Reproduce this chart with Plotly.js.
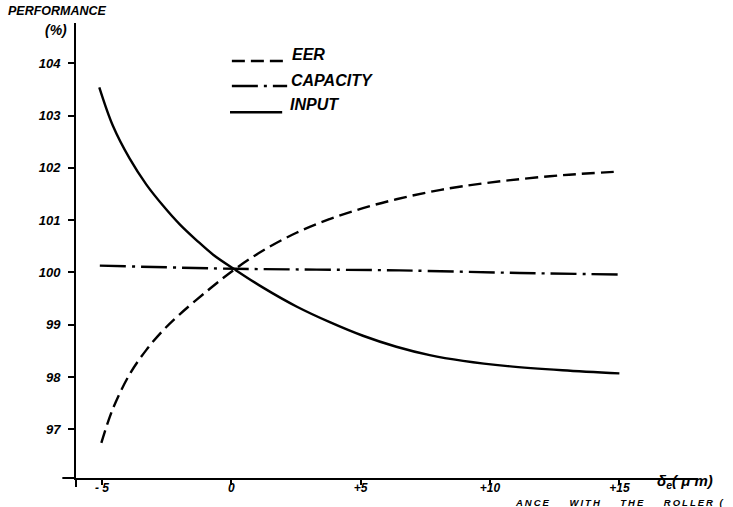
<!DOCTYPE html>
<html>
<head>
<meta charset="utf-8">
<script src="https://cdn.plot.ly/plotly-3.0.1.min.js"></script>
<style>html,body{margin:0;padding:0;background:#fff;}#chart{width:733px;height:507px;}</style>
</head>
<body>
<div id="chart"></div>
<script>
// ---- data ----
const eerX = [-5.02, -4.57, -3.93, -3.28, -2.64, -1.99, -0.90, 0.13, 1.23, 2.52, 3.80, 5.09, 6.38, 7.67, 8.96, 10.70, 12.8, 15.0];
const eerY = [96.74, 97.40, 98.05, 98.52, 98.89, 99.20, 99.66, 100.06, 100.42, 100.76, 101.02, 101.23, 101.40, 101.54, 101.65, 101.76, 101.86, 101.93];

const capX = [-5.08, 0.13, 6.5, 11.15, 15.0];
const capY = [100.13, 100.07, 100.04, 99.99, 99.96];

const inpX = [-5.10, -4.57, -3.93, -3.28, -2.64, -1.99, -1.35, -0.70, 0.13, 1.23, 2.52, 3.81, 5.09, 6.38, 7.67, 8.96, 10.68, 12.8, 15.0];
const inpY = [103.54, 102.80, 102.18, 101.68, 101.28, 100.92, 100.62, 100.34, 100.06, 99.71, 99.35, 99.05, 98.79, 98.58, 98.42, 98.31, 98.21, 98.13, 98.07];

const xTickVals = [-5, 0, 5, 10, 15];
const xTickText = ['- 5', '0', '+5', '+10', '+15'];
const yTickVals = [97, 98, 99, 100, 101, 102, 103, 104];
const yTickText = ['97', '98', '99', '100', '101', '102', '103', '104'];

const seriesNames = ['EER', 'CAPACITY', 'INPUT'];

// ---- styling ----
const FAM = 'Liberation Sans, Arial, Helvetica, sans-serif';
const bi = (size) => ({family: FAM, size: size, color: '#000', weight: 'bold', style: 'italic'});
const eerDash = '13px,6px';
const capDash = '26px,6px,3px,6px';

const traces = [
  {x: eerX, y: eerY, name: seriesNames[0], mode: 'lines', line: {color: '#000', width: 2.4, dash: eerDash, shape: 'spline', smoothing: 1}},
  {x: capX, y: capY, name: seriesNames[1], mode: 'lines', line: {color: '#000', width: 2.4, dash: capDash, shape: 'spline', smoothing: 0.6}},
  {x: inpX, y: inpY, name: seriesNames[2], mode: 'lines', line: {color: '#000', width: 2.4, shape: 'spline', smoothing: 1}}
];

function legendShape(x0, x1, y, dash) {
  return {type: 'line', xref: 'paper', yref: 'paper', x0: x0, x1: x1, y0: y, y1: y,
          line: {color: '#000', width: 2.4, dash: dash}};
}

const layout = {
  width: 733, height: 507,
  margin: {l: 76, r: 36, t: 23, b: 29},
  paper_bgcolor: '#fff', plot_bgcolor: '#fff',
  showlegend: false,
  xaxis: {
    range: [-6.0, 18.0], showgrid: false, zeroline: false,
    showline: true, linecolor: '#000', linewidth: 2,
    ticks: 'outside', ticklen: 5, tickwidth: 2, tickcolor: '#000',
    tickvals: xTickVals, ticktext: xTickText, tickfont: bi(12),
    ticklabelstandoff: -7
  },
  yaxis: {
    range: [96.07, 104.77], showgrid: false, zeroline: false,
    showline: true, linecolor: '#000', linewidth: 2,
    ticks: 'outside', ticklen: 6, tickwidth: 2, tickcolor: '#000',
    tickvals: yTickVals, ticktext: yTickText, tickfont: bi(13),
    ticklabelstandoff: 5
  },
  shapes: [
    legendShape(0.251, 0.337, 0.9165, eerDash),
    legendShape(0.251, 0.340, 0.8615, capDash),
    legendShape(0.248, 0.332, 0.804, 'solid'),
    {type: 'line', xref: 'paper', yref: 'paper', x0: -0.022, x1: 0, y0: 0, y1: 0, line: {color: '#000', width: 2}},
    {type: 'line', xref: 'paper', yref: 'paper', x0: 0, x1: 0, y0: 0, y1: -0.02, line: {color: '#000', width: 2}}
  ],
  annotations: [
    {text: seriesNames[0], xref: 'paper', yref: 'paper', x: 0.3446, y: 0.9297, xanchor: 'left', yanchor: 'middle', showarrow: false, font: bi(16)},
    {text: seriesNames[1], xref: 'paper', yref: 'paper', x: 0.343, y: 0.8747, xanchor: 'left', yanchor: 'middle', showarrow: false, font: bi(16)},
    {text: seriesNames[2], xref: 'paper', yref: 'paper', x: 0.3414, y: 0.8198, xanchor: 'left', yanchor: 'middle', showarrow: false, font: bi(16)},
    {text: 'PERFORMANCE', xref: 'paper', yref: 'paper', x: -0.112, y: 1.026, xanchor: 'left', yanchor: 'middle', showarrow: false, font: bi(12.5)},
    {text: '(%)', xref: 'paper', yref: 'paper', x: -0.053, y: 0.985, xanchor: 'left', yanchor: 'middle', showarrow: false, font: bi(14)},
    {text: 'δ<sub>e</sub>( μ m)', xref: 'paper', yref: 'paper', x: 0.933, y: -0.008, xanchor: 'left', yanchor: 'middle', showarrow: false, font: bi(15)},
    {text: '<span style="letter-spacing:2px">ANCE    WITH    THE    ROLLER (</span>', xref: 'paper', yref: 'paper', x: 1.048, y: -0.0535, xanchor: 'right', yanchor: 'middle', showarrow: false, font: bi(9.5)}
  ]
};

Plotly.newPlot('chart', traces, layout, {staticPlot: true, displayModeBar: false});
</script>
</body>
</html>
